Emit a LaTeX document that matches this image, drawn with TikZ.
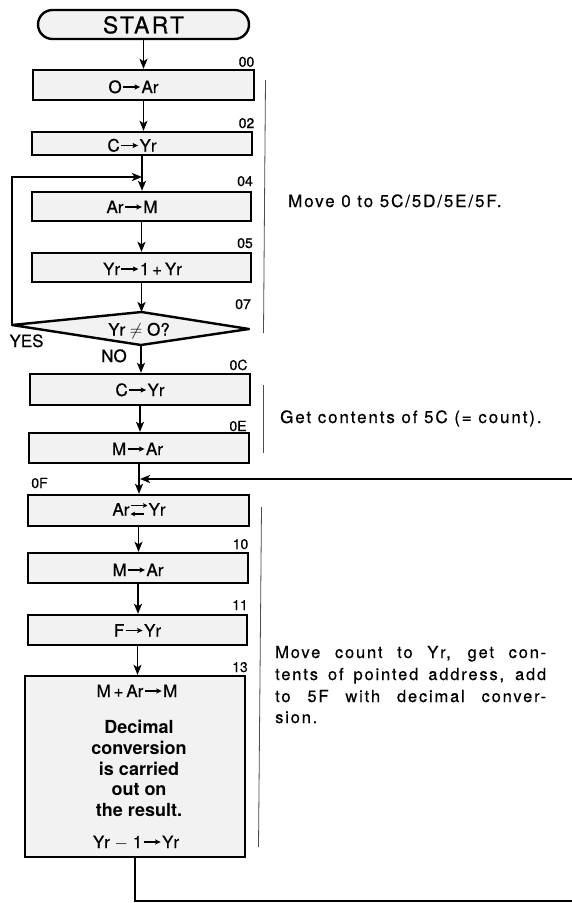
\documentclass[tikz,border=0pt]{standalone}
\usepackage{fontspec}
\setmainfont{TeX Gyre Heros}
\newfontfamily\rfont[FakeBold=0.6]{TeX Gyre Heros}
\newfontfamily\annofont[LetterSpace=11,FakeBold=0.5]{TeX Gyre Heros}
\newfontfamily\startfont[LetterSpace=10,FakeBold=0.6]{TeX Gyre Heros}
\usetikzlibrary{arrows.meta}
\newcommand\ra{\hspace{0.8pt}\tikz[baseline=-6pt]\draw[line width=1.2pt,-{Stealth[length=5.5pt,width=5pt,inset=1pt]}] (0pt,0pt)--(17pt,0pt);\hspace{0.8pt}}
\newcommand\xch{\hspace{0.5pt}\tikz[baseline=0pt]{\draw[line width=1.1pt,-{Stealth[length=4.5pt,width=4.5pt,inset=1pt]}] (0pt,10pt)--(17pt,10pt);\draw[line width=1.1pt,-{Stealth[length=4.5pt,width=4.5pt,inset=1pt]}] (13pt,1.5pt)--(0pt,1.5pt);}\hspace{0.5pt}}
\begin{document}
\begin{tikzpicture}[x=1pt,y=-1pt,
  box/.style={draw,line width=2.4pt,fill=black!5,rectangle,inner sep=0pt},
  conn/.style={line width=1.9pt,-{Stealth[length=10pt,width=8pt,inset=2.5pt]}},
  wire/.style={line width=1.9pt},
  btxt/.style={anchor=base,inner sep=0pt,font=\rfont\fontsize{17}{17}\selectfont},
  boldtxt/.style={anchor=base,inner sep=0pt,font=\fontsize{18}{18}\selectfont\bfseries},
  addr/.style={anchor=base,inner sep=0pt,font=\rfont\fontsize{14}{14}\selectfont},
  note/.style={anchor=base west,inner sep=0pt,font=\annofont\fontsize{17}{17}\selectfont},
  para/.style={anchor=base west,inner sep=0pt,font=\annofont\fontsize{16.5}{16.5}\selectfont},
  brk/.style={line width=0.8pt,black!70}]
\fill[white] (0,0) rectangle (572,903);
\useasboundingbox (0,0) rectangle (572,903);

% boxes
\node[box,rounded corners=14.5pt,minimum width=211pt,minimum height=29pt] (start) at (143.5,24.5) {};
\node[box,minimum width=221pt,minimum height=30pt] (b00) at (143.5,85) {};
\node[box,minimum width=220pt,minimum height=23pt] (b02) at (142,143.5) {};
\node[box,minimum width=219pt,minimum height=29pt] (b04) at (141.5,206.5) {};
\node[box,minimum width=219pt,minimum height=29pt] (b05) at (141.5,267.5) {};
\coordinate (dT) at (141.5,312);
\coordinate (dR) at (249,329);
\coordinate (dB) at (141,345);
\coordinate (dL) at (12,325);
\path[fill=black!5,draw,line width=2.4pt,line join=round] (dT) -- (dR) -- (dB) -- (dL) -- cycle;
\node[box,minimum width=220pt,minimum height=31pt] (b0C) at (140,389.5) {};
\node[box,minimum width=220pt,minimum height=30pt] (b0E) at (139,448) {};
\node[box,minimum width=221pt,minimum height=31pt] (b0F) at (138.5,510.5) {};
\node[box,minimum width=220pt,minimum height=30pt] (b10) at (138,568) {};
\node[box,minimum width=219pt,minimum height=30pt] (b11) at (137.5,630) {};
\node[box,minimum width=220pt,minimum height=181pt] (b13) at (135,766.5) {};

% texts in boxes
\node[anchor=base,inner sep=0pt,font=\startfont\fontsize{23}{23}\selectfont] (tS) at (143.5,33.3) {START};
\node[btxt] (t00) at (133.5,93) {O\ra Ar};
\node[btxt] (t02) at (132,151.5) {C\ra Yr};
\node[btxt] (t04) at (132,213) {Ar\ra M};
\node[btxt] (t05) at (142.5,275) {Yr\ra 1\,+\,Yr};
\node[btxt] (tD) at (139,335.5) {Yr $\neq$ O?};
\node[btxt] (t0C) at (140,396) {C\ra Yr};
\node[btxt] (t0E) at (137.5,455) {M\ra Ar};
\node[btxt] (t0F) at (139,515.5) {Ar\xch Yr};
\node[btxt] (t10) at (138,576) {M\ra Ar};
\node[btxt] (t11) at (137.5,636.5) {F\ra Yr};
\node[btxt] (t13a) at (137,697) {M\,+\,Ar\ra M};
\node[boldtxt] (t13b) at (139,733) {Decimal};
\node[boldtxt] (t13c) at (139,754) {conversion};
\node[boldtxt] (t13d) at (139,775) {is carried};
\node[boldtxt] (t13e) at (139,795) {out on};
\node[boldtxt] (t13f) at (139,816) {the result.};
\node[btxt] (t13g) at (136,848) {Yr $-$ 1\ra Yr};

% addresses
\node[addr] (a00) at (246.5,66.7) {00};
\node[addr] (a02) at (246.5,128) {02};
\node[addr] (a04) at (245,186) {04};
\node[addr] (a05) at (245,248) {05};
\node[addr] (a07) at (243,309) {07};
\node[addr] (a0C) at (238.5,370) {0C};
\node[addr] (a0E) at (238,431) {0E};
\node[addr] (a0F) at (39.5,488) {0F};
\node[addr] (a10) at (240.5,549) {10};
\node[addr] (a11) at (240,610) {11};
\node[addr] (a13) at (240,672) {13};
\node[btxt] (yes) at (26.5,347) {YES};
\node[btxt] (no) at (114,362) {NO};

% connectors
\draw[conn] (start.south) -- (start.south |- b00.north);
\draw[conn] (b00.south) -- (b00.south |- b02.north);
\draw[conn] (b02.south) -- (b02.south |- b04.north);
\draw[conn] (b04.south) -- (b04.south |- b05.north);
\draw[conn] (b05.south) -- (dT);
\draw[conn] (dB) -- (dB |- b0C.north);
\draw[conn] (b0C.south) -- (b0C.south |- b0E.north);
\draw[conn] (b0E.south) -- (b0E.south |- b0F.north);
\draw[conn] (b0F.south) -- (b0F.south |- b10.north);
\draw[conn] (b10.south) -- (b10.south |- b11.north);
\draw[conn] (b11.south) -- (b11.south |- b13.north);
\coordinate (lj) at (142,177);
\draw[conn] (dL) -- (dL |- lj) -- (lj);
\coordinate (inR) at (572,479);
\draw[conn,shorten >=1pt] (inR) -- (inR -| b0E.south);
\coordinate (outR) at (572,901);
\draw[wire] (b13.south) -- (b13.south |- outR) -- (outR);

% brackets
\draw[brk] (265.5,80) -- (263.5,333);
\draw[brk] (263,385) -- (263,453);
\draw[brk] (261.5,507) -- (258.5,847);

% notes
\node[note] (n1) at (288,207) {Move 0 to 5C/5D/5E/5F.};
\node[note] (n2) at (280,423) {Get contents of 5C (= count).};
\node[para] (p1) at (275,658) {\makebox[271pt][s]{Move count to Yr, get con-}};
\node[para] (p2) at (275,680) {\makebox[271pt][s]{tents of pointed address, add}};
\node[para] (p3) at (275,702) {\makebox[271pt][s]{to 5F with decimal conver-}};
\node[para] (p4) at (275,723) {sion.};
\end{tikzpicture}
\end{document}
